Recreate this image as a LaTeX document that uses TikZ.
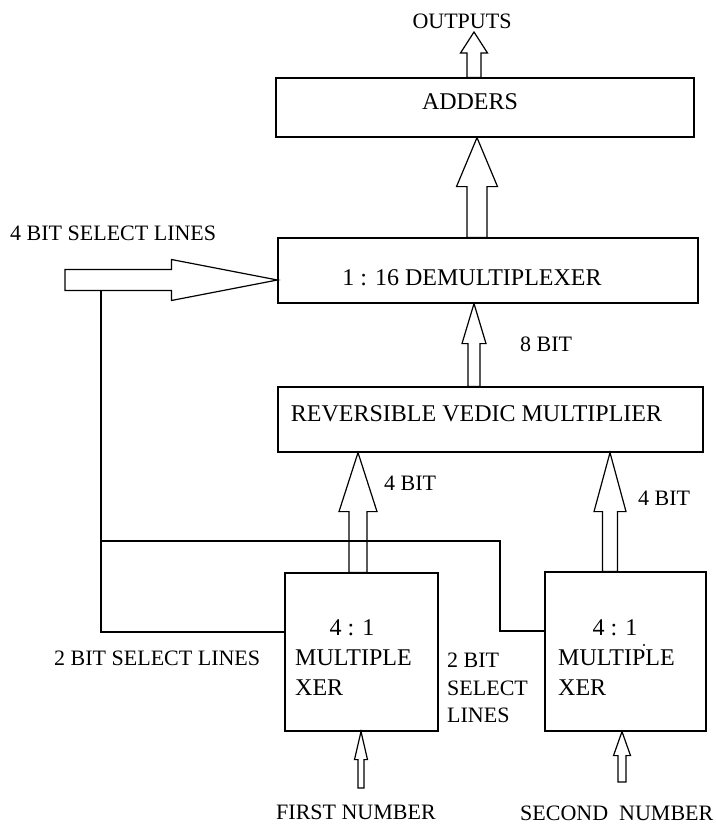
\documentclass[tikz,border=0pt]{standalone}
\usepackage{fontspec}
\setmainfont{Liberation Serif}
\usetikzlibrary{calc}
\tikzset{
  box/.style={draw, line width=1.2pt, inner sep=0pt},
  ln/.style={draw, line width=1.2pt},
  blk/.style={draw, line width=1.2pt, line join=miter},
  big/.style={font=\fontsize{24}{28}\selectfont, inner sep=0pt, anchor=base},
  bigw/.style={font=\fontsize{24}{28}\selectfont, inner sep=0pt, anchor=base west},
  lbl/.style={font=\fontsize{22}{27}\selectfont, inner sep=0pt, anchor=base west},
}
\newcommand\uparr[5]{%
  \draw[blk] let \p1=(#1), \p2=(#2) in
   ({\x2-#3},\y1) -- ({\x2-#3},{\y2-#5}) -- ({\x2-#4},{\y2-#5}) -- (\x2,\y2)
   -- ({\x2+#4},{\y2-#5}) -- ({\x2+#3},{\y2-#5}) -- ({\x2+#3},\y1) -- cycle;}
\newcommand\rtarr[5]{%
  \draw[blk] let \p1=(#1), \p2=(#2) in
   (\x1,{\y2+#3}) -- ({\x2-#5},{\y2+#3}) -- ({\x2-#5},{\y2+#4}) -- (\x2,\y2)
   -- ({\x2-#5},{\y2-#4}) -- ({\x2-#5},{\y2-#3}) -- (\x1,{\y2-#3}) -- cycle;}
\begin{document}
\begin{tikzpicture}[x=1pt,y=-1pt]
\useasboundingbox (0,0) rectangle (715,824);
% boxes
\node[box, minimum width=418pt, minimum height=59pt] (ad) at (485,107.5) {};
\node[box, minimum width=420pt, minimum height=65pt] (dm) at (488,270.5) {};
\node[box, minimum width=425pt, minimum height=65pt] (rv) at (490.5,419.5) {};
\node[box, minimum width=153pt, minimum height=158pt] (m1) at (361.5,652) {};
\node[box, minimum width=161pt, minimum height=159pt] (m2) at (625.5,651.5) {};
% box texts
\node[big] (adt) at (470,110) {ADDERS};
\node[big] (dmt) at (472,285) {1 : 16 DEMULTIPLEXER};
\node[big] (rvt) at (476.5,421) {REVERSIBLE VEDIC MULTIPLIER};
\node[big] (m1a) at (352,635) {4 : 1};
\node[bigw] (m1b) at (295,665) {MULTIPLE};
\node[bigw] (m1c) at (295,695) {XER};
\node[big] (m2a) at (615,635) {4 : 1};
\node[bigw] (m2b) at (558,665) {MULTIPLE};
\node[bigw] (m2c) at (558,695) {XER};
\fill (644,645) circle (1.1pt);
% labels
\node[lbl, anchor=base] (out) at (462,29) {OUTPUTS};
\node[lbl] (sel4) at (10,240) {4 BIT SELECT LINES};
\node[lbl] (b8) at (520,351) {8 BIT};
\node[lbl] (b4a) at (384,490) {4 BIT};
\node[lbl] (b4b) at (638,505) {4 BIT};
\node[lbl] (sel2a) at (54,665) {2 BIT SELECT LINES};
\node[lbl] (sel2b) at (447,667) {2 BIT};
\node[lbl] (sel2c) at (447,695) {SELECT};
\node[lbl] (sel2d) at (447,722) {LINES};
\node[lbl] (fn) at (276,819) {FIRST NUMBER};
\node[lbl] (sn) at (520,820) {SECOND\hspace{0.5em}NUMBER};
% block arrows
\coordinate (o0) at (474,0 |- ad.north); \coordinate (o1) at (474,32);
\uparr{o0}{o1}{7pt}{13.5pt}{21pt}
\coordinate (a0) at (477,0 |- dm.north); \coordinate (a1) at (477,0 |- ad.south);
\uparr{a0}{a1}{10pt}{20.5pt}{49pt}
\coordinate (b0) at (474,0 |- rv.north); \coordinate (b1) at (474,0 |- dm.south);
\uparr{b0}{b1}{6pt}{12pt}{40pt}
\coordinate (c0) at (358,0 |- m1.north); \coordinate (c1) at (358,0 |- rv.south);
\uparr{c0}{c1}{9pt}{19pt}{59pt}
\coordinate (d0) at (610,0 |- m2.north); \coordinate (d1) at (610,0 |- rv.south);
\uparr{d0}{d1}{7.5pt}{16pt}{59pt}
\coordinate (e0) at (361,788); \coordinate (e1) at (361,0 |- m1.south);
\uparr{e0}{e1}{3pt}{6.5pt}{28pt}
\coordinate (f0) at (622,782); \coordinate (f1) at (622,0 |- m2.south);
\uparr{f0}{f1}{4pt}{8.5pt}{24pt}
\coordinate (s0) at (65,280); \coordinate (s1) at (dm.west |- 0,280);
\rtarr{s0}{s1}{10.5pt}{20.5pt}{106pt}
% select lines
\coordinate (j1) at (101,290.5);
\draw[ln] (j1) |- (m1.west |- 0,632);
\coordinate (j2) at (101,541);
\draw[ln] (j2) -- (500,541) |- (m2.west |- 0,631);
\end{tikzpicture}
\end{document}
